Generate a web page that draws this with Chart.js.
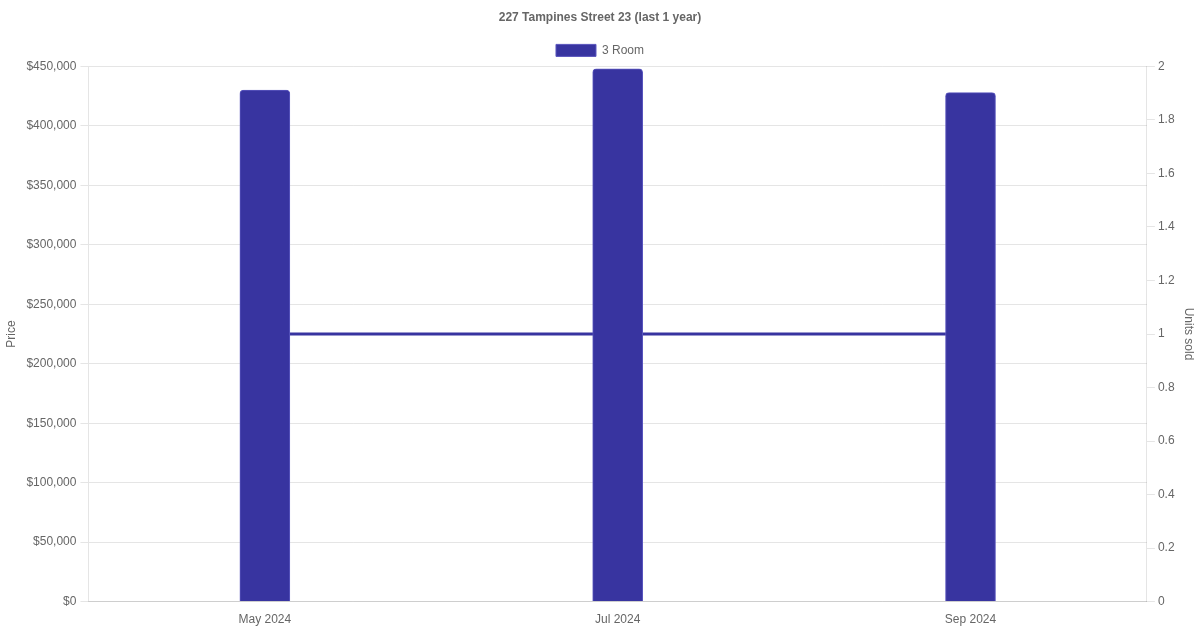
<!DOCTYPE html>
<html>
<head>
    <title>227 Tampines Street 23</title>
    <script src="https://cdn.jsdelivr.net/npm/chart.js"></script>
    <style>
        html, body { margin: 0; padding: 0; background: #fff; }
        .chart-container { width: 1200px; height: 630px; }
    </style>
</head>
<body>
    <div class="chart-container">
        <canvas id="priceChart"></canvas>
    </div>
    <script>
var months = ['May 2024', 'Jul 2024', 'Sep 2024'];
var prices = [430000, 448000, 428000];
var unitsSold = [1, 1, 1];
var barColor = 'rgb(56, 52, 160)';

document.addEventListener('DOMContentLoaded', function() {
    var ctx = document.getElementById('priceChart');
    new Chart(ctx, {
        type: 'bar',
        data: {
            labels: months,
            datasets: [
                {
                    label: '3 Room',
                    data: prices,
                    backgroundColor: barColor,
                    borderColor: 'rgba(90, 86, 190, 1)',
                    borderWidth: 1,
                    borderRadius: 4,
                    borderSkipped: 'bottom',
                    barThickness: 50,
                    yAxisID: 'y',
                    order: 0
                },
                {
                    type: 'line',
                    label: 'Units sold',
                    data: unitsSold,
                    borderColor: barColor,
                    backgroundColor: barColor,
                    borderWidth: 3,
                    pointRadius: 0,
                    yAxisID: 'y1',
                    order: 1
                }
            ]
        },
        options: {
            responsive: true,
            maintainAspectRatio: false,
            animation: false,
            plugins: {
                title: {
                    display: true,
                    text: '227 Tampines Street 23 (last 1 year)',
                    color: '#666',
                    font: { size: 12, weight: 'bold' }
                },
                legend: {
                    labels: {
                        color: '#666',
                        filter: function(item) { return item.datasetIndex === 0; }
                    }
                }
            },
            scales: {
                x: {
                    ticks: { color: '#666' },
                    grid: { display: false }
                },
                y: {
                    position: 'left',
                    min: 0,
                    max: 450000,
                    ticks: {
                        stepSize: 50000,
                        color: '#666',
                        padding: 4,
                        callback: function(v) { return '$' + v.toLocaleString('en-US'); }
                    },
                    title: { display: true, text: 'Price', color: '#666' }
                },
                y1: {
                    position: 'right',
                    min: 0,
                    max: 2,
                    ticks: {
                        stepSize: 0.2,
                        color: '#666',
                        callback: function(v) { return String(Math.round(v * 10) / 10); }
                    },
                    grid: { drawOnChartArea: false },
                    title: { display: true, text: 'Units sold', color: '#666' }
                }
            }
        }
    });
});
    </script>
</body>
</html>
